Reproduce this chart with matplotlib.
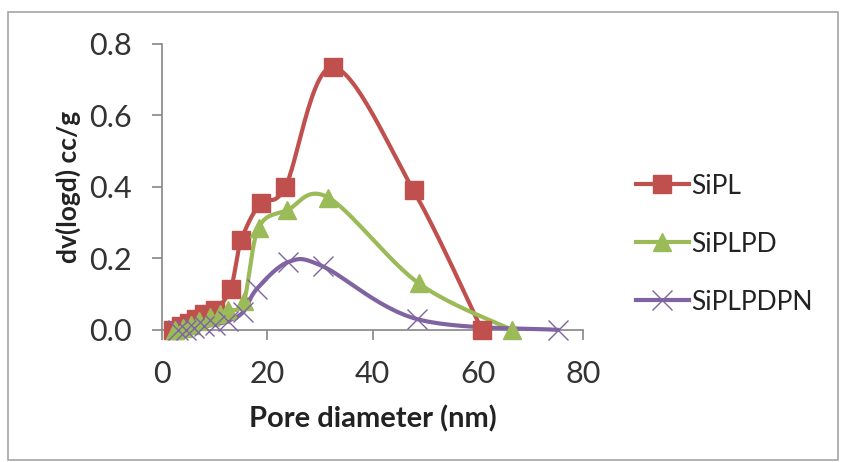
import numpy as np
import matplotlib
matplotlib.use("Agg")
import matplotlib.pyplot as plt
from matplotlib.patches import Rectangle

plt.rcParams['font.family'] = ['Lato', 'DejaVu Sans']

# datos
x_sipl = [2.0, 3.5, 5.0, 6.5, 8.0, 10.0, 13.0, 15.0, 18.7, 23.4, 32.4, 47.8, 60.8]
y_sipl = [0.0, 0.01, 0.02, 0.03, 0.045, 0.055, 0.115, 0.25, 0.355, 0.40, 0.735, 0.39, 0.0]

x_siplpd = [2.5, 4.0, 5.5, 7.0, 9.0, 11.0, 12.5, 15.5, 18.3, 23.8, 31.6, 48.8, 66.5]
y_siplpd = [0.0, 0.005, 0.015, 0.025, 0.035, 0.045, 0.055, 0.08, 0.285, 0.335, 0.37, 0.13, 0.0]

x_siplpdpn = [3.0, 4.5, 6.0, 8.0, 10.0, 12.5, 15.4, 18.0, 24.0, 30.5, 48.5, 75.2]
y_siplpdpn = [0.0, 0.0, 0.005, 0.01, 0.015, 0.025, 0.05, 0.115, 0.19, 0.178, 0.03, 0.0]

nombres = ["SiPL", "SiPLPD", "SiPLPDPN"]
colores = ["#C0504D", "#9BBB59", "#8064A2"]


def suavizar(xs, ys, sx=5.25, sy=357.5, n=30):
    """Curva suave tipo Excel (Bezier con puntos de control de Catmull-Rom)."""
    p = np.column_stack([np.array(xs) * sx, np.array(ys) * sy])
    m = len(p)
    curva = []
    for i in range(m - 1):
        p0 = p[i - 1] if i > 0 else p[i]
        p1 = p[i]
        p2 = p[i + 1]
        p3 = p[i + 2] if i + 2 < m else p[i + 1]
        c1 = p1 + (p2 - p0) / 6
        c2 = p2 - (p3 - p1) / 6
        t = np.linspace(0, 1, n)[:, None]
        seg = ((1 - t) ** 3) * p1 + 3 * ((1 - t) ** 2) * t * c1 + 3 * (1 - t) * t ** 2 * c2 + t ** 3 * p2
        curva.append(seg)
    curva = np.vstack(curva)
    return curva[:, 0] / sx, curva[:, 1] / sy


fig = plt.figure(figsize=(8.41, 4.62), dpi=100)
ax = fig.add_axes([0.193, 0.286, 0.500, 0.619])

series = [(x_sipl, y_sipl, "s", 12.5, 1.0),
          (x_siplpd, y_siplpd, "^", 12.5, 1.0),
          (x_siplpdpn, y_siplpdpn, "x", 14, 1.0)]

handles = []
for (xs, ys, mk, ms, mew), nombre, col in zip(series, nombres, colores):
    cx, cy = suavizar(xs, ys)
    ax.plot(cx, cy, color=col, lw=3.0, clip_on=False, zorder=3)
    ax.plot(xs, ys, linestyle="none", marker=mk, ms=ms, color=col,
            mec=col, mew=mew, clip_on=False, zorder=4)
    h, = ax.plot([], [], color=col, lw=3.0, marker=mk, ms=ms, mew=mew)
    handles.append(h)

ax.set_xlim(0, 80)
ax.set_ylim(0, 0.8)
ax.set_xticks([0, 20, 40, 60, 80])
ax.set_yticks([0.0, 0.2, 0.4, 0.6, 0.8])
ax.set_yticklabels(["0.0", "0.2", "0.4", "0.6", "0.8"])

for lado in ["top", "right"]:
    ax.spines[lado].set_visible(False)
for lado in ["left", "bottom"]:
    ax.spines[lado].set_color("#868686")
    ax.spines[lado].set_linewidth(1.2)

ax.tick_params(axis="both", colors="#868686", labelcolor="#333333", labelsize=22,
               length=7, width=1.2, direction="out")
ax.tick_params(axis="x", pad=15)
ax.tick_params(axis="y", pad=15)

ax.set_xlabel("Pore diameter (nm)", fontsize=21, fontweight="bold", color="#222222", labelpad=12)
ax.set_ylabel("dv(logd) cc/g", fontsize=19, fontweight="bold", color="#222222", labelpad=6)

leg = ax.legend(handles, nombres, loc="center left", bbox_to_anchor=(1.07, 0.30),
                frameon=False, fontsize=19, handlelength=2.0, handletextpad=0.1,
                labelspacing=1.25)
for t in leg.get_texts():
    t.set_color("#222222")

fig.patches.append(Rectangle((0.01, 0.005), 0.987, 0.968, transform=fig.transFigure,
                             fill=False, edgecolor="#A6A6A6", lw=1.2))

plt.savefig("out.png", dpi=100)
